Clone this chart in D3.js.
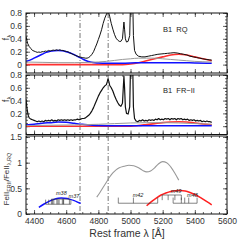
<!DOCTYPE html>
<html><head><meta charset="utf-8">
<script src="https://cdn.jsdelivr.net/npm/d3@7"></script>
<style>body{margin:0;background:#fff}svg{display:block;background:#fff}text{font-family:"Liberation Sans",Arial,sans-serif}</style>
</head><body><svg id="c" width="240" height="240"></svg>
<script>
// ---------- data ----------
const xTicks = [4400,4600,4800,5000,5200,5400,5600];
const yTicksFlux = [0,0.2,0.4,0.6,0.8];
const yTicksRatio = [0,0.5,1,1.5];
const markerLines = [4686,4861];

const rqObs = [[4350,0.44],[4355,0.38],[4360,0.33],[4370,0.28],[4380,0.25],[4390,0.22],[4400,0.21],[4410,0.2],[4420,0.19],[4430,0.195],[4440,0.19],[4450,0.2],[4460,0.2],[4470,0.21],[4480,0.205],[4490,0.22],[4500,0.21],[4510,0.22],[4520,0.225],[4530,0.22],[4540,0.23],[4550,0.22],[4560,0.23],[4570,0.22],[4580,0.22],[4590,0.21],[4600,0.205],[4610,0.2],[4620,0.185],[4630,0.175],[4640,0.16],[4650,0.15],[4660,0.14],[4670,0.13],[4680,0.12],[4690,0.115],[4700,0.11],[4710,0.105],[4720,0.1],[4730,0.1],[4740,0.11],[4750,0.13],[4760,0.16],[4770,0.2],[4780,0.26],[4790,0.32],[4800,0.39],[4810,0.46],[4820,0.54],[4830,0.64],[4840,0.72],[4850,0.78],[4858,0.81],[4865,0.8],[4870,0.75],[4880,0.64],[4890,0.55],[4900,0.47],[4910,0.41],[4920,0.38],[4930,0.36],[4940,0.36],[4950,0.4],[4955,0.55],[4959,0.66],[4963,0.55],[4968,0.4],[4975,0.35],[4985,0.36],[4995,0.45],[5002,1.2],[5007,1.9],[5012,1.2],[5018,0.45],[5025,0.22],[5035,0.16],[5050,0.13],[5070,0.12],[5090,0.12],[5110,0.13],[5130,0.14],[5150,0.15],[5170,0.16],[5190,0.165],[5210,0.17],[5230,0.175],[5250,0.18],[5270,0.185],[5290,0.18],[5310,0.17],[5330,0.16],[5350,0.15],[5370,0.13],[5390,0.12],[5410,0.11],[5430,0.1],[5450,0.09],[5470,0.08],[5490,0.075],[5505,0.07]];
const rqBlue = [[4350,0.05],[4375,0.07],[4400,0.1],[4425,0.13],[4450,0.16],[4475,0.19],[4500,0.205],[4525,0.215],[4550,0.22],[4575,0.215],[4600,0.2],[4625,0.18],[4650,0.155],[4675,0.12],[4700,0.09],[4725,0.06],[4750,0.04],[4800,0.025],[4850,0.02],[4900,0.02],[5000,0.025],[5100,0.03],[5200,0.03],[5300,0.03],[5400,0.025],[5505,0.02]];
const rqRed = [[4350,0],[4600,0],[4800,0],[4950,0],[5000,0.01],[5050,0.03],[5100,0.06],[5150,0.09],[5200,0.12],[5250,0.15],[5300,0.16],[5350,0.15],[5400,0.12],[5450,0.09],[5505,0.06]];
const rqGray = [[4350,0.04],[4450,0.035],[4550,0.03],[4650,0.03],[4750,0.035],[4850,0.05],[4950,0.08],[5000,0.09],[5050,0.1],[5100,0.1],[5150,0.1],[5200,0.09],[5250,0.08],[5300,0.07],[5350,0.06],[5400,0.05],[5450,0.045],[5505,0.04]];

const frObs = [[4350,0.42],[4355,0.3],[4360,0.22],[4365,0.16],[4370,0.13],[4380,0.11],[4390,0.1],[4400,0.09],[4410,0.08],[4420,0.07],[4430,0.08],[4440,0.07],[4450,0.08],[4460,0.07],[4470,0.09],[4480,0.08],[4490,0.09],[4500,0.08],[4510,0.1],[4520,0.08],[4530,0.09],[4540,0.08],[4550,0.1],[4560,0.09],[4570,0.1],[4580,0.09],[4590,0.1],[4600,0.09],[4610,0.1],[4620,0.09],[4630,0.1],[4640,0.09],[4650,0.1],[4660,0.1],[4670,0.11],[4680,0.1],[4690,0.11],[4700,0.12],[4710,0.12],[4720,0.13],[4730,0.15],[4740,0.17],[4750,0.2],[4760,0.24],[4770,0.29],[4780,0.35],[4790,0.41],[4800,0.47],[4810,0.52],[4820,0.56],[4830,0.6],[4840,0.63],[4850,0.65],[4856,0.7],[4860,0.74],[4865,0.7],[4870,0.64],[4880,0.6],[4890,0.55],[4900,0.48],[4910,0.42],[4920,0.37],[4930,0.33],[4940,0.31],[4950,0.36],[4955,0.6],[4959,0.78],[4963,0.6],[4968,0.3],[4975,0.2],[4985,0.19],[4995,0.3],[5002,1.2],[5007,2.2],[5012,1.2],[5018,0.3],[5025,0.12],[5035,0.08],[5045,0.07],[5055,0.09],[5065,0.08],[5075,0.1],[5085,0.08],[5095,0.09],[5105,0.08],[5115,0.1],[5125,0.09],[5135,0.1],[5145,0.09],[5155,0.11],[5165,0.1],[5175,0.12],[5185,0.1],[5195,0.11],[5205,0.1],[5215,0.12],[5225,0.11],[5235,0.12],[5245,0.1],[5255,0.12],[5265,0.11],[5275,0.12],[5285,0.1],[5295,0.12],[5305,0.11],[5315,0.12],[5325,0.1],[5335,0.11],[5345,0.1],[5355,0.11],[5365,0.09],[5375,0.1],[5385,0.09],[5395,0.1],[5405,0.08],[5415,0.09],[5425,0.08],[5435,0.09],[5445,0.07],[5455,0.08],[5465,0.07],[5475,0.08],[5485,0.07],[5495,0.07],[5505,0.06]];
const frBlue = [[4350,0.02],[4400,0.03],[4450,0.045],[4500,0.055],[4550,0.065],[4600,0.06],[4650,0.045],[4700,0.03],[4750,0.02],[4800,0.01],[4900,0.005],[5100,0.005],[5300,0.005],[5505,0.005]];
const frRed = [[4350,0],[4700,0],[5000,0],[5050,0.01],[5100,0.025],[5150,0.04],[5200,0.055],[5250,0.065],[5300,0.07],[5350,0.065],[5400,0.05],[5450,0.035],[5505,0.02]];
const frGray = [[4350,0.01],[4500,0.015],[4650,0.02],[4800,0.03],[4900,0.04],[5000,0.05],[5100,0.055],[5200,0.055],[5300,0.05],[5400,0.04],[5505,0.03]];

const ratioBlue = [[4430,0.13],[4460,0.19],[4490,0.24],[4520,0.28],[4550,0.305],[4570,0.31],[4590,0.305],[4620,0.29],[4650,0.26],[4680,0.22],[4690,0.21]];
const ratioGray = [[4790,0.33],[4810,0.42],[4830,0.52],[4850,0.62],[4870,0.72],[4890,0.8],[4910,0.86],[4930,0.9],[4960,0.93],[4990,0.95],[5020,0.94],[5050,0.9],[5075,0.85],[5100,0.82],[5125,0.84],[5150,0.9],[5175,0.98],[5200,1.02],[5225,1.0],[5250,0.92],[5275,0.8],[5300,0.66]];
const ratioRed = [[5100,0.16],[5130,0.24],[5160,0.31],[5190,0.37],[5220,0.41],[5250,0.44],[5280,0.455],[5310,0.46],[5340,0.45],[5370,0.42],[5400,0.38],[5430,0.33],[5460,0.27],[5490,0.21],[5505,0.18]];

const m37 = [4472,4491,4515,4549,4556,4582,4629];
const m38 = [4508,4523,4542,4576,4584,4620];
const m42 = [4924,5018,5169];
const m49 = [5197,5234,5276,5316];
const m48 = [5265,5316,5337,5362,5414];

// ---------- drawing ----------
const svg = d3.select("#c");
const x = d3.scaleLinear().domain([4350,5600]).range([26,227]);
const xMinor = d3.range(4350,5601,50);
const FONT = '"Liberation Sans",Arial,sans-serif';

function panel(id, top, bottom, dom, major, minor, labels){
  const y = d3.scaleLinear().domain(dom).range([bottom, top]);
  const g = svg.append("g");
  g.append("clipPath").attr("id",id).append("rect")
    .attr("x",x.range()[0]).attr("y",top).attr("width",x.range()[1]-x.range()[0]).attr("height",bottom-top);
  const ax = (gen, tr) => g.append("g").attr("transform",tr).call(gen)
      .call(s=>{s.select(".domain").remove(); s.selectAll("line").attr("stroke","#222").attr("stroke-width",0.7);});
  ax(d3.axisBottom(x).tickValues(xMinor).tickSize(-2).tickFormat(""), `translate(0,${bottom})`);
  ax(d3.axisBottom(x).tickValues(xTicks).tickSize(-4).tickFormat(""), `translate(0,${bottom})`);
  ax(d3.axisTop(x).tickValues(xMinor).tickSize(-2).tickFormat(""), `translate(0,${top})`);
  ax(d3.axisTop(x).tickValues(xTicks).tickSize(-4).tickFormat(""), `translate(0,${top})`);
  ax(d3.axisLeft(y).tickValues(minor).tickSize(-2).tickFormat(""), `translate(${x.range()[0]},0)`);
  ax(d3.axisRight(y).tickValues(minor).tickSize(-2).tickFormat(""), `translate(${x.range()[1]},0)`);
  ax(d3.axisRight(y).tickValues(major).tickSize(-4).tickFormat(""), `translate(${x.range()[1]},0)`);
  const la = g.append("g").attr("transform",`translate(${x.range()[0]},0)`)
    .call(d3.axisLeft(y).tickValues(major).tickSize(-4).tickPadding(4).tickFormat(d3.format("")));
  la.select(".domain").remove();
  la.selectAll("line").attr("stroke","#222").attr("stroke-width",0.7);
  la.selectAll("text").attr("font-size","8.5px").attr("fill","#333").attr("font-family",FONT);
  if(labels){
    const lb = g.append("g").attr("transform",`translate(0,${bottom})`)
      .call(d3.axisBottom(x).tickValues(xTicks).tickSize(0).tickPadding(4).tickFormat(d3.format("")));
    lb.select(".domain").remove();
    lb.selectAll("text").attr("font-size","8.5px").attr("fill","#333").attr("font-family",FONT);
  }
  const plot = g.append("g").attr("clip-path",`url(#${id})`);
  plot.selectAll("line.mk").data(markerLines).join("line")
    .attr("x1",d=>x(d)).attr("x2",d=>x(d)).attr("y1",top).attr("y2",bottom)
    .attr("stroke","#555").attr("stroke-width",0.8).attr("stroke-dasharray","5,2,1,2");
  g.append("rect").attr("x",x.range()[0]).attr("y",top).attr("width",x.range()[1]-x.range()[0]).attr("height",bottom-top)
    .attr("fill","none").attr("stroke","#111").attr("stroke-width",1);
  return {y, plot};
}
function curve(p, data, color, w){
  const line = d3.line().x(d=>x(d[0])).y(d=>p.y(d[1])).curve(d3.curveMonotoneX);
  p.plot.append("path").datum(data).attr("d",line).attr("fill","none").attr("stroke",color).attr("stroke-width",w).attr("stroke-linejoin","round");
}
function spectrum(p, data, w){
  const line = d3.line().x(d=>x(d[0])).y(d=>p.y(d[1]));
  p.plot.append("path").datum(data).attr("d",line).attr("fill","none").attr("stroke","#111").attr("stroke-width",w).attr("stroke-linejoin","round");
}

const fluxMinor = d3.range(0,0.81,0.05).map(v=>+v.toFixed(2));
const ratioMinor = d3.range(0,1.51,0.1).map(v=>+v.toFixed(2));

const p1 = panel("cp1", 13, 73, [-0.13,0.8], yTicksFlux, fluxMinor, false);
curve(p1, rqRed, "#ff3030", 1.6);
curve(p1, rqBlue, "#1010ff", 1.5);
curve(p1, rqGray, "#999", 1);
spectrum(p1, rqObs, 1);

const p2 = panel("cp2", 75, 134.5, [-0.13,0.8], yTicksFlux, fluxMinor, false);
curve(p2, frRed, "#ff3030", 1.6);
curve(p2, frBlue, "#1010ff", 1.5);
curve(p2, frGray, "#999", 1);
spectrum(p2, frObs, 1.2);

const p3 = panel("cp3", 136, 214, [0,1.52], yTicksRatio, ratioMinor, true);
curve(p3, ratioBlue, "#1010ff", 1.5);
curve(p3, ratioGray, "#999", 1.1);
curve(p3, ratioRed, "#ff2020", 1.5);

function bracket(lines, base, tip, label, lx, ly){
  const g = p3.plot.append("g").attr("stroke","#333").attr("stroke-width",0.6).attr("fill","none");
  g.append("line").attr("x1",x(d3.min(lines))).attr("x2",x(d3.max(lines))).attr("y1",p3.y(base)).attr("y2",p3.y(base));
  g.selectAll("line.t").data(lines).join("line").attr("class","t")
    .attr("x1",d=>x(d)).attr("x2",d=>x(d)).attr("y1",p3.y(base)).attr("y2",p3.y(tip));
  p3.plot.append("text").attr("x",x(lx)).attr("y",p3.y(ly)).attr("text-anchor","middle")
    .attr("font-size","5.5px").attr("font-style","italic").attr("fill","#222").text(label);
}
bracket(m37, 0.19, 0.28, "m37", 4648, 0.31);
bracket(m38, 0.29, 0.19, "m38", 4570, 0.37);
bracket(m42, 0.21, 0.32, "m42", 5047, 0.34);
bracket(m49, 0.37, 0.27, "m49", 5283, 0.4);
bracket(m48, 0.21, 0.32, "m48", 5385, 0.34);

svg.append("text").attr("x",163).attr("y",32).attr("font-size","7.5px").attr("fill","#222").attr("xml:space","preserve").text("B1  RQ");
svg.append("text").attr("x",163).attr("y",93).attr("font-size","7.5px").attr("fill","#222").attr("xml:space","preserve").text("B1  FR\u2212II");

function fl(cy){
  const t = svg.append("text").attr("transform",`translate(9,${cy}) rotate(-90)`).attr("text-anchor","middle").attr("font-size","8.5px").attr("fill","#333");
  t.append("tspan").text("f");
  t.append("tspan").attr("dy","2").attr("font-size","6px").text("\u03bb");
}
fl(p1.y(0.42));
fl(p2.y(0.42));
const rt = svg.append("text").attr("transform",`translate(9,${p3.y(0.68)}) rotate(-90)`).attr("text-anchor","middle").attr("font-size","8px").attr("fill","#333");
rt.append("tspan").text("FeII");
rt.append("tspan").attr("dy","2").attr("font-size","5.5px").text("FRII");
rt.append("tspan").attr("dy","-2").text("/FeII");
rt.append("tspan").attr("dy","2").attr("font-size","5.5px").text("\u03bb,RQ");

svg.append("text").attr("x",127).attr("y",237).attr("text-anchor","middle").attr("font-size","10.5px").attr("fill","#333").text("Rest frame \u03bb [\u00c5]");
</script></body></html>
